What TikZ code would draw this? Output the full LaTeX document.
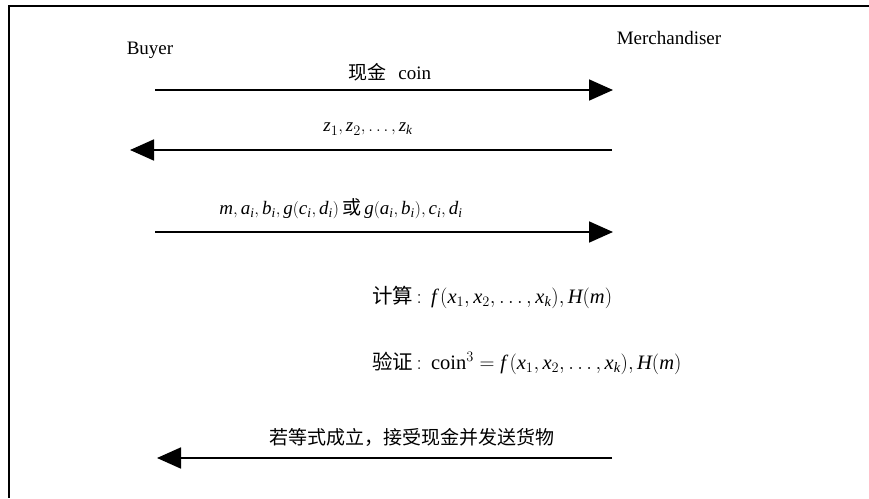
\documentclass[tikz,border=0pt]{standalone}
\usepackage{fontspec}
\setmainfont{Liberation Serif}
\newfontfamily\cjk{Noto Sans CJK SC}
\usetikzlibrary{arrows.meta}
\newcommand\vv[1]{\mathit{#1}}
\tikzset{
  msg/.style={line width=1.8pt, -{Triangle[length=24pt,width=21pt]}},
  frameline/.style={line width=1.8pt},
  lbl/.style={font=\fontsize{19}{22}\selectfont, inner sep=0pt},
  biglbl/.style={font=\fontsize{20.5}{24}\selectfont, inner sep=0pt},
}
\begin{document}
\begin{tikzpicture}[x=1pt,y=-1pt]
\useasboundingbox (0,0) rectangle (869,498);
% frame (partial)
\coordinate (fTL) at (9,6);
\coordinate (fTR) at (869,6);
\coordinate (fBL) at (9,498);
\draw[frameline] (fTR) -- (fTL) -- (fBL);
% actors
\node[lbl] (buyer) at (150,50) {Buyer};
\node[lbl] (merch) at (669,38) {Merchandiser};
% message 1
\coordinate (m1s) at (155,90);
\coordinate (m1e) at (613,90);
\draw[msg] (m1s) -- (m1e);
\node[lbl] (l1) at (390,72) {{\cjk 现金}\hspace{0.6em}coin};
% message 2
\coordinate (m2s) at (612,150);
\coordinate (m2e) at (130,150);
\draw[msg] (m2s) -- (m2e);
\node[lbl] (l2) at (368,129) {$\vv{z}_1,\vv{z}_2,\ldots,\vv{z}_{\vv{k}}$};
% message 3
\coordinate (m3s) at (155,232);
\coordinate (m3e) at (613,232);
\draw[msg] (m3s) -- (m3e);
\node[lbl] (l3) at (341,209) {$\vv{m},\vv{a}_{\vv{i}},\vv{b}_{\vv{i}},\vv{g}(\vv{c}_{\vv{i}},\vv{d}_{\vv{i}})$\,{\cjk 或}\,$\vv{g}(\vv{a}_{\vv{i}},\vv{b}_{\vv{i}}),\vv{c}_{\vv{i}},\vv{d}_{\vv{i}}$};
% computations
\node[biglbl, anchor=west] (calc) at (372,297) {{\cjk 计算}$\,:\,\vv{f}\,(\vv{x}_1,\vv{x}_2,\ldots,\vv{x}_{\vv{k}}),\vv{H}(\vv{m})$};
\node[biglbl, anchor=west] (verif) at (372,363) {{\cjk 验证}$\,:\,\mathrm{coin}^3=\vv{f}\,(\vv{x}_1,\vv{x}_2,\ldots,\vv{x}_{\vv{k}}),\vv{H}(\vv{m})$};
% message 4
\coordinate (m4s) at (612,458);
\coordinate (m4e) at (157,458);
\draw[msg] (m4s) -- (m4e);
\node[lbl] (l4) at (412,437) {\cjk 若等式成立，接受现金并发送货物};
\end{tikzpicture}
\end{document}
